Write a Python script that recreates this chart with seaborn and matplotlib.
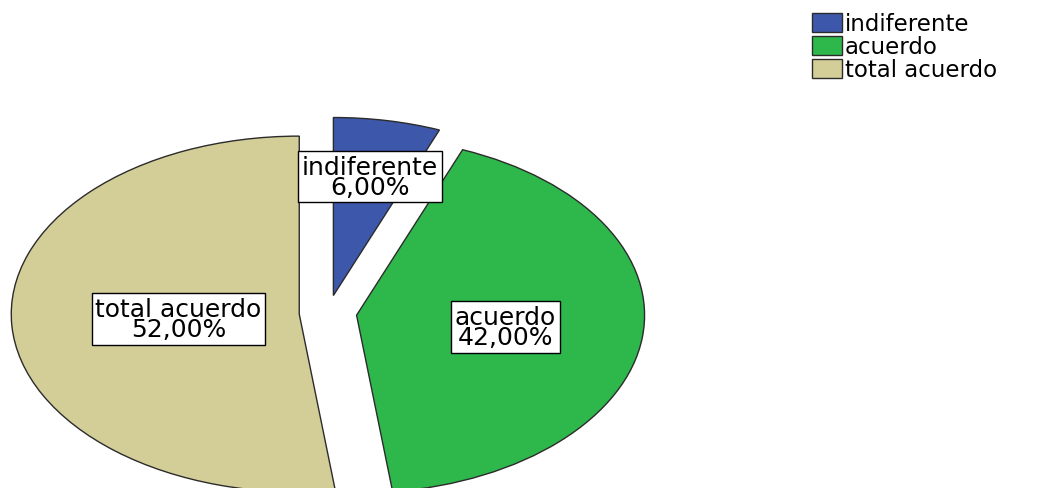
import matplotlib
matplotlib.use("Agg")
import matplotlib.pyplot as plt
import seaborn as sns
import numpy as np

categories = ["indiferente", "acuerdo", "total acuerdo"]
percentages = [6.0, 42.0, 52.0]
pct_labels = ["6,00%", "42,00%", "52,00%"]

sns.set_theme(style="white")
plt.rcParams['font.family'] = ['DejaVu Sans']
plt.rcParams['text.color'] = 'black'
colors = sns.color_palette(["#3D58AB", "#2EB84C", "#D3CE98"])

W, H = 1037, 489
fig = plt.figure(figsize=(W / 100, H / 100), dpi=100)
ax = fig.add_axes([0, 0, 1, 1])

wedges, _ = ax.pie(percentages, explode=[0.1] * 3, startangle=90,
                   counterclock=False, colors=colors,
                   wedgeprops=dict(edgecolor="#2b2b2b", linewidth=1.0))

# elliptical (horizontally stretched) pie, cut off at the bottom
cx_px, cy_px, rx_px, ry_px = 328, 314, 288, 178
ax.set_aspect('auto')
ax.set_xlim(-cx_px / rx_px, (W - cx_px) / rx_px)
ax.set_ylim((cy_px - H) / ry_px, cy_px / ry_px)
ax.axis('off')

label_radius = [0.68, 0.52, 0.42]
for w, cat, pct, r in zip(wedges, categories, pct_labels, label_radius):
    theta = np.deg2rad((w.theta1 + w.theta2) / 2)
    x0, y0 = w.center
    ax.text(x0 + r * np.cos(theta), y0 + r * np.sin(theta), f"{cat}\n{pct}",
            ha='center', va='center', multialignment='center',
            fontsize=18, linespacing=0.8, color='black',
            bbox=dict(boxstyle='square,pad=0.15', fc='white', ec='black', lw=1))

fig.legend(wedges, categories, loc='upper left',
           bbox_to_anchor=(812 / W, 1 - 13 / H), frameon=False, fontsize=16.5,
           labelcolor='black',
           handlelength=1.3, handleheight=0.9, handletextpad=0.12,
           labelspacing=0.0, borderaxespad=0, borderpad=0)

fig.savefig("out.png", dpi=100)
